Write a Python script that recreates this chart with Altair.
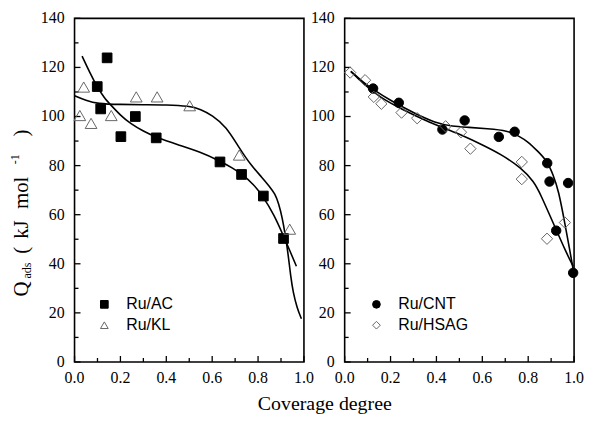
import altair as alt
import pandas as pd

# ---------------- data ----------------
# Left panel: Ru/AC (filled squares) and Ru/KL (open triangles)
ac_x = [0.099, 0.142, 0.114, 0.202, 0.265, 0.356, 0.634, 0.728, 0.823, 0.911]
ac_y = [112.2, 123.9, 103.1, 91.8, 100.0, 91.3, 81.5, 76.4, 67.6, 50.3]
kl_x = [0.040, 0.023, 0.072, 0.160, 0.269, 0.360, 0.502, 0.718, 0.938]
kl_y = [112.0, 100.4, 97.2, 100.4, 108.0, 108.0, 104.4, 84.3, 54.1]

ac_cx = [0.033, 0.066, 0.099, 0.13, 0.16, 0.20, 0.245, 0.30, 0.356, 0.45, 0.55,
         0.63, 0.69, 0.73, 0.78, 0.82, 0.87, 0.91, 0.94, 0.967]
ac_cy = [124.6, 118.0, 112.0, 107.5, 104.5, 100.5, 97.0, 94.0, 91.5, 88.5, 85.5,
         82.0, 79.0, 76.4, 72.5, 67.6, 60.0, 51.5, 45.0, 39.0]
kl_cx = [0.0, 0.05, 0.10, 0.20, 0.30, 0.40, 0.50, 0.55, 0.60, 0.66, 0.717, 0.77,
         0.817, 0.85, 0.874, 0.89, 0.905, 0.92, 0.931, 0.942, 0.953, 0.97, 0.989]
kl_cy = [108.5, 106.5, 105.2, 104.9, 104.8, 104.8, 104.3, 103.0, 100.5, 96.0, 87.3, 80.0,
         75.2, 71.5, 68.5, 64.5, 59.0, 51.0, 44.0, 35.0, 28.3, 22.0, 17.6]

# Right panel: Ru/CNT (filled circles) and Ru/HSAG (open diamonds)
cnt_x = [0.124, 0.236, 0.426, 0.523, 0.672, 0.741, 0.883, 0.893, 0.974, 0.922, 0.996]
cnt_y = [111.4, 105.6, 94.7, 98.4, 91.7, 93.8, 81.0, 73.5, 72.9, 53.5, 36.3]
hsag_x = [0.024, 0.089, 0.127, 0.160, 0.248, 0.316, 0.440, 0.507, 0.548, 0.772, 0.772, 0.882, 0.960]
hsag_y = [117.9, 114.8, 108.0, 105.2, 101.6, 99.3, 96.0, 93.6, 86.9, 81.5, 74.5, 50.2, 56.8]

cnt_cx = [0.027, 0.08, 0.124, 0.20, 0.30, 0.397, 0.47, 0.54, 0.62, 0.711, 0.76, 0.797,
          0.84, 0.882, 0.91, 0.932, 0.96, 0.981, 0.996]
cnt_cy = [118.4, 114.0, 111.0, 106.5, 101.5, 97.3, 96.0, 95.6, 95.0, 94.3, 92.0, 89.9,
          86.0, 82.0, 76.0, 70.0, 56.4, 45.7, 37.7]
hsag_cx = [0.027, 0.08, 0.15, 0.255, 0.35, 0.44, 0.52, 0.597, 0.682, 0.768, 0.825,
           0.853, 0.91, 0.967, 0.996]
hsag_cy = [118.4, 113.5, 108.0, 102.7, 98.5, 95.0, 92.0, 88.6, 84.6, 79.2, 73.5,
           68.5, 56.4, 44.3, 39.0]

x_major = [0.0, 0.2, 0.4, 0.6, 0.8, 1.0]
x_minor = [0.1, 0.3, 0.5, 0.7, 0.9]
y_major = [0, 20, 40, 60, 80, 100, 120, 140]
y_minor = [10, 30, 50, 70, 90, 110, 130]

W, H = 231, 346
SERIF = "Liberation Serif"
SANS = "Liberation Sans"

XS = alt.Scale(domain=[0, 1], nice=False, zero=False)
YS = alt.Scale(domain=[0, 140], nice=False)


def pts(name, xs, ys):
    return pd.DataFrame({"x": xs, "y": ys, "series": name})


def xenc(field="x"):
    return alt.X(f"{field}:Q", scale=XS, axis=None)


def yenc(field="y"):
    return alt.Y(f"{field}:Q", scale=YS, axis=None)


def rule_y(vals, length):
    return alt.Chart(pd.DataFrame({"v": vals})).mark_rule(color="black", strokeWidth=1.3).encode(
        y=yenc("v"), x=alt.value(0), x2=alt.value(length))


def rule_x(vals, length):
    return alt.Chart(pd.DataFrame({"v": vals})).mark_rule(color="black", strokeWidth=1.3).encode(
        x=xenc("v"), y=alt.value(H), y2=alt.value(H - length))


def panel(pt_frames, curves, names, shapes, fills, strokes, sizes, lx, ly, extra=None):
    legend = alt.Legend(title=None, orient="none", legendX=lx, legendY=ly,
                        symbolSize=60, labelFont=SANS, labelFontSize=16,
                        labelColor="black", rowPadding=5, labelOffset=14,
                        padding=0, symbolStrokeWidth=1)
    lines = alt.Chart(curves).mark_line(color="black", strokeWidth=1.6,
                                        interpolate="basis").encode(
        x=xenc(), y=yenc(), detail="series:N")
    dot_layers = []
    for frame, sz in zip(pt_frames, sizes):
        dot_layers.append(alt.Chart(frame).mark_point(opacity=1, strokeWidth=1, size=sz).encode(
            x=xenc(), y=yenc(),
            shape=alt.Shape("series:N", scale=alt.Scale(domain=names, range=shapes), legend=legend),
            fill=alt.Fill("series:N", scale=alt.Scale(domain=names, range=fills), legend=legend),
            stroke=alt.Stroke("series:N", scale=alt.Scale(domain=names, range=strokes), legend=legend),
        ))
    ylab = alt.Chart(pd.DataFrame({"v": y_major})).mark_text(
        font=SERIF, fontSize=16, align="right", baseline="middle", dx=-10, color="black").encode(
        y=yenc("v"), x=alt.value(0), text=alt.Text("v:Q"))
    xlab = alt.Chart(pd.DataFrame({"v": x_major})).mark_text(
        font=SERIF, fontSize=16, align="center", baseline="top", dy=8, color="black").encode(
        x=xenc("v"), y=alt.value(H), text=alt.Text("v:Q", format=".1f"))
    layers = [rule_y(y_major, 6), rule_y(y_minor, 4), rule_x(x_major, 6), rule_x(x_minor, 4),
              ylab, xlab, lines] + dot_layers + (extra or [])
    return alt.layer(*layers).properties(width=W, height=H)


def label(text, x, y, size, angle=270, align="left", baseline="alphabetic", font=SERIF):
    return alt.Chart(alt.Data(values=[{}])).mark_text(
        text=text, angle=angle, align=align, baseline=baseline, font=font,
        fontSize=size, color="black").encode(x=alt.value(x), y=alt.value(y))


# y-title pieces (rotated), positions relative to the left plot's origin
ytitle = [
    label("Q", -47, 280, 21),
    label("ads", -44, 262, 12),
    label("(", -47, 237, 21),
    label("kJ", -47, 222, 21),
    label("mol", -47, 192, 21),
    label("-1", -56, 147, 12),
    label(")", -47, 119, 21),
    label("Coverage degree", 252, 388, 20, angle=0, align="center", baseline="middle"),
]

left = panel([pts("Ru/AC", ac_x, ac_y), pts("Ru/KL", kl_x, kl_y)],
             pd.concat([pts("AC", ac_cx, ac_cy), pts("KL", kl_cx, kl_cy)]),
             ["Ru/AC", "Ru/KL"], ["square", "triangle-up"],
             ["black", "transparent"], ["black", "#666666"], [95, 140], 22, 280, ytitle)
right = panel([pts("Ru/CNT", cnt_x, cnt_y), pts("Ru/HSAG", hsag_x, hsag_y)],
              pd.concat([pts("CNT", cnt_cx, cnt_cy), pts("HSAG", hsag_cx, hsag_cy)]),
              ["Ru/CNT", "Ru/HSAG"], ["circle", "diamond"],
              ["black", "transparent"], ["black", "#666666"], [90, 130], 24, 280)

chart = alt.hconcat(left, right, spacing=41, bounds="flush").resolve_scale(
    shape="independent", fill="independent", stroke="independent",
    x="independent", y="independent"
).resolve_legend(shape="independent", fill="independent", stroke="independent").properties(
    padding={"left": 0, "right": 0, "top": 0, "bottom": 0}
).configure_view(
    stroke="black", strokeWidth=1.6
)

chart.save("out.html", embed_options={"renderer": "svg", "actions": False})
